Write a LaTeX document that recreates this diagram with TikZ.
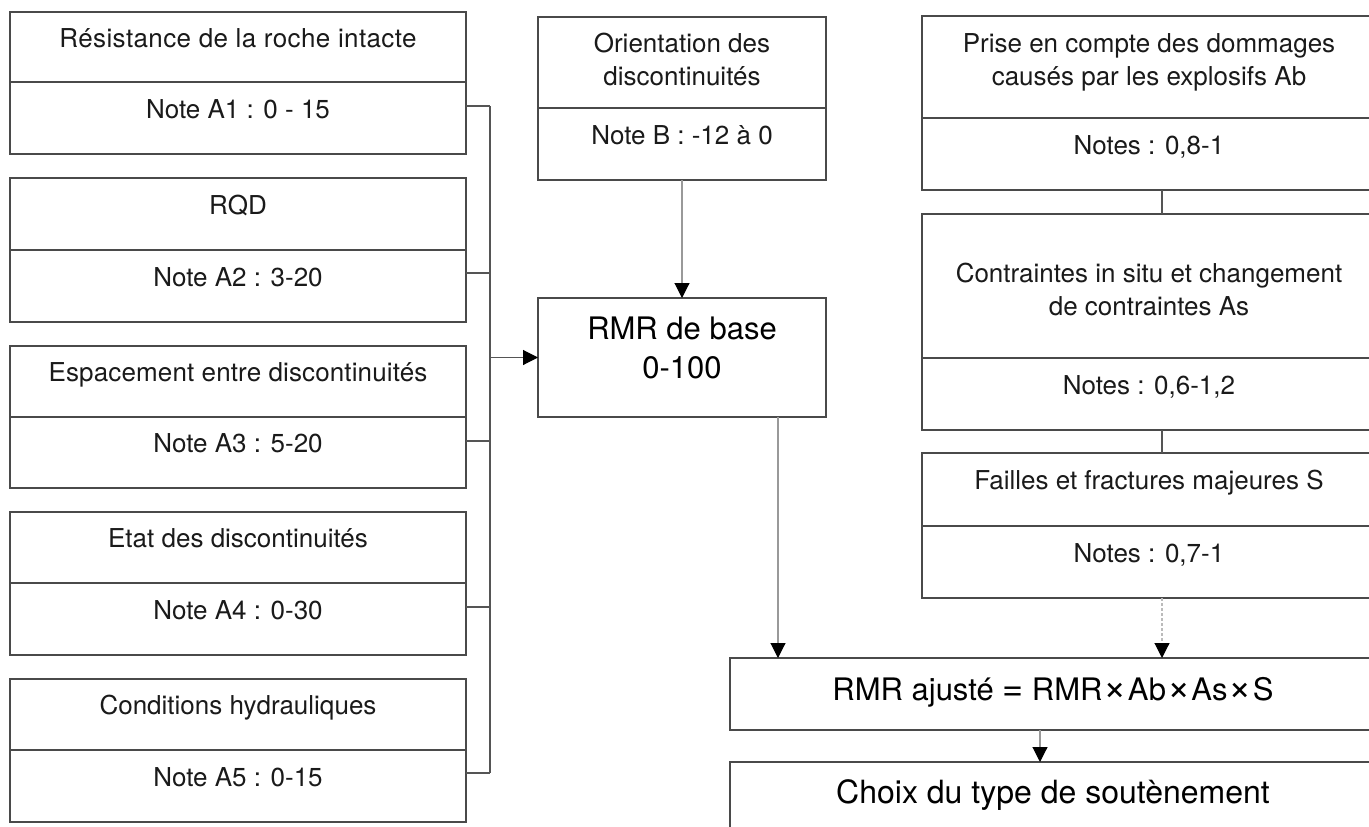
\documentclass[tikz,border=0pt]{standalone}
\usepackage{fontspec}
\setmainfont{TeX Gyre Heros}
\usetikzlibrary{arrows.meta,calc}
\definecolor{boxc}{HTML}{4A4A4A}
\definecolor{linec}{HTML}{555555}
\definecolor{lightc}{HTML}{999999}
\definecolor{dashc}{HTML}{BBBBBB}
\definecolor{txtc}{HTML}{1A1A1A}
\newcommand{\twolines}[2]{\begin{tabular}[t]{@{}c@{}}#1\\#2\end{tabular}}
\newcommand{\timesop}{\kern1pt{\fontsize{40}{40}\selectfont ×}\kern1pt}
\newcommand{\eqop}{\ {\fontsize{36}{36}\selectfont =}\ }
\tikzset{
  bx/.style={draw=boxc, line width=1.2pt, inner sep=0pt, outer sep=0pt, minimum width=#1},
  lbox/.style={bx=456pt},
  mbox/.style={bx=288pt},
  rbox/.style={bx=454pt},
  wbox/.style={bx=646pt},
  txt/.style={anchor=base, inner sep=0pt, text=txtc, font=\fontsize{26}{33}\selectfont},
  bigtxt/.style={anchor=base, inner sep=0pt, text=black, font=\fontsize{31}{39}\selectfont},
  bus/.style={draw=linec, line width=1.2pt},
  arr/.style={line width=1.1pt, -{Triangle[width=15pt,length=15pt,color=black]}},
}
\begin{document}
\begin{tikzpicture}[x=1pt,y=-1pt]
\useasboundingbox (0,0) rectangle (1369,827);
\clip (0,0) rectangle (1369,827);
\fill[white] (0,0) rectangle (1369,827);

% ---------- left column ----------
\node[lbox, minimum height=70pt] (a1t) at (238,47) {};
\node[lbox, minimum height=72pt] (a1n) at (238,118) {};
\node[lbox, minimum height=72pt] (a2t) at (238,214) {};
\node[lbox, minimum height=72pt] (a2n) at (238,286) {};
\node[lbox, minimum height=71pt] (a3t) at (238,381.5) {};
\node[lbox, minimum height=71pt] (a3n) at (238,452.5) {};
\node[lbox, minimum height=71pt] (a4t) at (238,547.5) {};
\node[lbox, minimum height=72pt] (a4n) at (238,619) {};
\node[lbox, minimum height=71pt] (a5t) at (238,714.5) {};
\node[lbox, minimum height=72pt] (a5n) at (238,786) {};

\node[txt] (a1tt) at (a1t.center) {\addfontfeature{LetterSpace=1.5}Résistance de la roche intacte};
\node[txt] (a1nt) at (a1n.center) {Note A1 : 0 - 15};
\node[txt] (a2tt) at (a2t.center) {RQD};
\node[txt] (a2nt) at (a2n.center) {Note A2 : 3-20};
\node[txt] (a3tt) at (a3t.center) {\addfontfeature{LetterSpace=0.5}Espacement entre discontinuités};
\node[txt] (a3nt) at (a3n.center) {Note A3 : 5-20};
\node[txt] (a4tt) at (a4t.center) {Etat des discontinuités};
\node[txt] (a4nt) at (a4n.center) {Note A4 : 0-30};
\node[txt] (a5tt) at (a5t.center) {Conditions hydrauliques};
\node[txt] (a5nt) at (a5n.center) {Note A5 : 0-15};

% ---------- middle column ----------
\node[mbox, minimum height=91pt] (ot) at (682,62.5) {};
\node[mbox, minimum height=72pt] (on) at (682,144) {};
\node[txt] (ott) at ($(ot.center)+(0,-10.5)$) {\twolines{Orientation des}{discontinuités}};
\node[txt] (ont) at (on.center) {Note B : -12 à 0};

\node[mbox, minimum height=119pt] (rb) at (682,357.5) {};
\node[bigtxt] (rbt) at ($(rb.center)+(0,-18.5)$) {\twolines{RMR de base}{0-100}};

% ---------- right column ----------
\node[rbox, minimum height=102pt] (abt) at (1149,67) {};
\node[rbox, minimum height=72pt] (abn) at (1149,154) {};
\node[rbox, minimum height=144pt] (ast) at (1149,286) {};
\node[rbox, minimum height=72pt] (asn) at (1149,394) {};
\node[rbox, minimum height=73pt] (st) at (1149,489.5) {};
\node[rbox, minimum height=72pt] (sn) at (1149,562) {};

\node[txt] (abtt) at ($(abt.center)+(0,-15)$) {\twolines{Prise en compte des dommages}{causés par les explosifs Ab}};
\node[txt] (abnt) at (abn.center) {Notes : 0,8-1};
\node[txt] (astt) at ($(ast.center)+(0,-4)$) {\twolines{Contraintes in situ et changement}{de contraintes As}};
\node[txt] (asnt) at (asn.center) {Notes : 0,6-1,2};
\node[txt] (stt) at (st.center) {Failles et fractures majeures S};
\node[txt] (snt) at (sn.center) {Notes : 0,7-1};

% ---------- bottom ----------
\node[wbox, minimum height=72pt] (aj) at (1053,694) {};
\node[bigtxt] (ajt) at ($(aj.center)+(0,6)$) {RMR ajusté\eqop RMR\timesop Ab\timesop As\timesop S};
\node[wbox, minimum height=100pt] (ch) at (1053,812) {};
\node[bigtxt] (cht) at ($(ch.center)+(0,-9)$) {\fontsize{32}{39}\selectfont Choix du type de soutènement};

% ---------- connectors ----------
\coordinate (bx) at (490,0);
\coordinate (cr) at (1162,0);
\coordinate (cm) at (778,0);
\coordinate (cb) at (1040,0);
\coordinate (p1) at ($(a1n.north east)+(0,24)$);
\coordinate (p2) at ($(a2n.north east)+(0,23)$);
\coordinate (p3) at ($(a3n.north east)+(0,24)$);
\coordinate (p4) at ($(a4n.north east)+(0,24)$);
\coordinate (p5) at ($(a5n.north east)+(0,23)$);

\draw[bus] (p1) -- (p1 -| bx);
\draw[bus] (p2) -- (p2 -| bx);
\draw[bus] (p3) -- (p3 -| bx);
\draw[bus] (p4) -- (p4 -| bx);
\draw[bus] (p5) -- (p5 -| bx);
\draw[bus] (p1 -| bx) -- (p5 -| bx);
\draw[arr, draw=linec] (rb.west -| bx) -- (rb.west);

\draw[arr, draw=lightc] (on.south) -- (rb.north);
\draw[arr, draw=lightc] (rb.south -| cm) -- (aj.north -| cm);

\draw[bus] (abn.south -| cr) -- (ast.north -| cr);
\draw[bus] (asn.south -| cr) -- (st.north -| cr);
\draw[arr, draw=dashc, dash pattern=on 3pt off 2pt] (sn.south -| cr) -- (aj.north -| cr);
\draw[arr, draw=lightc] (aj.south -| cb) -- (ch.north -| cb);
\end{tikzpicture}
\end{document}
